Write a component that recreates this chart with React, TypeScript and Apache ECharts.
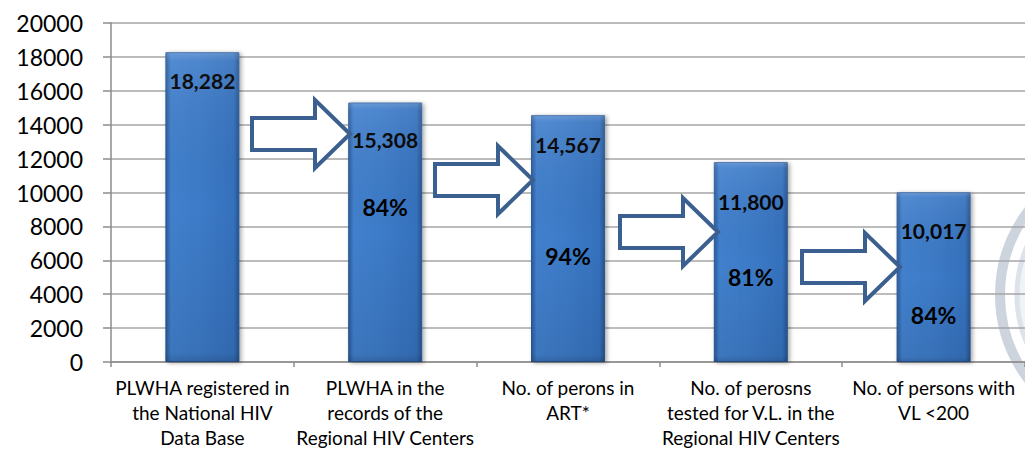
import React, { useEffect, useRef } from "react";
import * as echarts from "echarts";

const categories = [
  "PLWHA registered in\nthe National HIV\nData Base",
  "PLWHA in the\nrecords of the\nRegional HIV Centers",
  "No. of perons in\nART*",
  "No. of perosns\ntested for V.L. in the\nRegional HIV Centers",
  "No. of persons with\nVL <200",
];
const values = [18282, 15308, 14567, 11800, 10017];
const percents = ["", "84%", "94%", "81%", "84%"];
const yMin = 0;
const yMax = 20000;
const yInterval = 2000;

// label placement (px from bar top)
const valueLabelDy = [28, 37, 29, 40, 38];
const pctLabelDy = [0, 104, 141, 115, 123];

// decorative arrows: [left x, center y]
const arrowAnchors = [
  [250, 134],
  [433, 180],
  [618, 232],
  [800, 267],
];

const FONT = "Lato, Carlito, Calibri, 'Open Sans', sans-serif";

function arrowPoints(x: number, cy: number): number[][] {
  const w = 100;
  const headW = 35;
  const bodyH = 16;
  const headH = 34;
  const l = x + 2;
  const hx = x + w - headW;
  const tip = x + w;
  return [
    [l, cy - bodyH],
    [hx, cy - bodyH],
    [hx, cy - headH],
    [tip, cy],
    [hx, cy + headH],
    [hx, cy + bodyH],
    [l, cy + bodyH],
  ];
}

export default function App() {
  const ref = useRef<HTMLDivElement>(null);

  useEffect(() => {
    document.body.style.margin = "0";
    if (!ref.current) return;
    const chart = echarts.init(ref.current, undefined, { renderer: "svg" });

    const barGradient = new echarts.graphic.LinearGradient(0, 0, 1, 0, [
      { offset: 0, color: "#2b5b9b" },
      { offset: 0.07, color: "#4280cd" },
      { offset: 0.5, color: "#3c7ac7" },
      { offset: 0.93, color: "#3571bd" },
      { offset: 1, color: "#28548f" },
    ]);
    const bevel = new echarts.graphic.LinearGradient(0, 0, 0, 1, [
      { offset: 0, color: "rgba(255,255,255,0.22)" },
      { offset: 0.03, color: "rgba(255,255,255,0.08)" },
      { offset: 0.5, color: "rgba(0,0,0,0)" },
      { offset: 0.97, color: "rgba(0,0,0,0.08)" },
      { offset: 1, color: "rgba(0,0,0,0.2)" },
    ]);

    chart.setOption({
      animation: false,
      grid: { left: 111, top: 23, width: 920, height: 339 },
      xAxis: {
        type: "category",
        data: categories,
        axisLine: { lineStyle: { color: "#8c8c8c", width: 1.5 } },
        axisTick: { show: true, length: 5, lineStyle: { color: "#8c8c8c", width: 1.5 } },
        axisLabel: {
          color: "#000",
          fontFamily: FONT,
          fontSize: 19,
          lineHeight: 25,
          margin: 13,
          interval: 0,
          align: "center",
        },
      },
      yAxis: {
        type: "value",
        min: yMin,
        max: yMax,
        interval: yInterval,
        axisLine: { show: true, lineStyle: { color: "#8c8c8c", width: 1.5 } },
        axisTick: { show: true, length: 8, lineStyle: { color: "#8c8c8c", width: 1.5 } },
        splitLine: { lineStyle: { color: "#a6a6a6", width: 1.6 } },
        axisLabel: {
          color: "#000",
          fontFamily: FONT,
          fontSize: 23,
          margin: 28,
          formatter: (v: number) => String(v),
        },
      },
      graphic: [
        {
          type: "circle",
          z: -10,
          silent: true,
          shape: { cx: 1139, cy: 295, r: 139 },
          style: { fill: "rgba(0,0,0,0)", stroke: "#cdd4de", lineWidth: 10 },
        },
        {
          type: "circle",
          z: -10,
          silent: true,
          shape: { cx: 1139, cy: 295, r: 122 },
          style: { fill: "#f1f4f7", stroke: "#dce3ea", lineWidth: 5 },
        },
        ...arrowAnchors.map(([x, cy]) => ({
          type: "polygon",
          z: 20,
          silent: true,
          shape: { points: arrowPoints(x, cy) },
          style: { fill: "#ffffff", stroke: "#3b5f8e", lineWidth: 4, lineJoin: "miter" },
        })),
      ],
      series: [
        {
          type: "bar",
          barWidth: 74,
          data: values.map((v, i) => ({
            value: v,
            label: {
              show: true,
              position: ["50%", valueLabelDy[i]],
              align: "center",
              verticalAlign: "middle",
            },
          })),
          itemStyle: {
            color: barGradient,
            borderColor: "#2a5a98",
            borderWidth: 1,
            shadowColor: "rgba(0,0,0,0.35)",
            shadowBlur: 4,
            shadowOffsetX: 2,
            shadowOffsetY: 1,
          },
          label: {
            show: true,
            color: "#000",
            fontFamily: FONT,
            fontWeight: "bold",
            fontSize: 21,
            formatter: (p: any) => Number(p.value).toLocaleString("en-US"),
          },
          z: 2,
        },
        {
          type: "bar",
          barWidth: 74,
          barGap: "-100%",
          data: values.map((v, i) => ({
            value: v,
            label: {
              show: percents[i] !== "",
              position: ["50%", pctLabelDy[i]],
              align: "center",
              verticalAlign: "middle",
            },
          })),
          itemStyle: { color: bevel },
          label: {
            color: "#000",
            fontFamily: FONT,
            fontWeight: "bold",
            fontSize: 23,
            formatter: (p: any) => percents[p.dataIndex],
          },
          z: 3,
        },
      ],
    });

    return () => chart.dispose();
  }, []);

  return <div ref={ref} style={{ width: 1025, height: 451 }} />;
}
